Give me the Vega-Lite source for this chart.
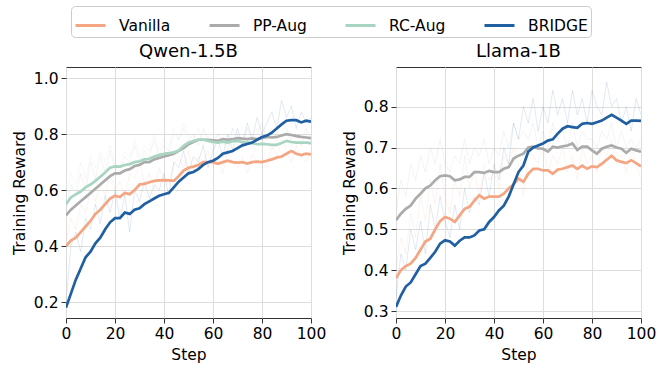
{
  "$schema": "https://vega.github.io/schema/vega-lite/v6.json",
  "padding": {"left": 11, "top": 5, "right": 5, "bottom": 5},
  "background": "white",
  "datasets": {
    "runs": [
{"panel":"Qwen-1.5B","method":"Vanilla","step":0,"smooth":0.40,"raw":0.42},
{"panel":"Qwen-1.5B","method":"Vanilla","step":2,"smooth":0.42,"raw":0.50},
{"panel":"Qwen-1.5B","method":"Vanilla","step":4,"smooth":0.43,"raw":0.46},
{"panel":"Qwen-1.5B","method":"Vanilla","step":6,"smooth":0.45,"raw":0.55},
{"panel":"Qwen-1.5B","method":"Vanilla","step":8,"smooth":0.47,"raw":0.52},
{"panel":"Qwen-1.5B","method":"Vanilla","step":10,"smooth":0.49,"raw":0.60},
{"panel":"Qwen-1.5B","method":"Vanilla","step":12,"smooth":0.515,"raw":0.56},
{"panel":"Qwen-1.5B","method":"Vanilla","step":14,"smooth":0.53,"raw":0.62},
{"panel":"Qwen-1.5B","method":"Vanilla","step":16,"smooth":0.55,"raw":0.58},
{"panel":"Qwen-1.5B","method":"Vanilla","step":18,"smooth":0.57,"raw":0.66},
{"panel":"Qwen-1.5B","method":"Vanilla","step":20,"smooth":0.58,"raw":0.60},
{"panel":"Qwen-1.5B","method":"Vanilla","step":22,"smooth":0.575,"raw":0.63},
{"panel":"Qwen-1.5B","method":"Vanilla","step":24,"smooth":0.59,"raw":0.58},
{"panel":"Qwen-1.5B","method":"Vanilla","step":26,"smooth":0.585,"raw":0.66},
{"panel":"Qwen-1.5B","method":"Vanilla","step":28,"smooth":0.60,"raw":0.64},
{"panel":"Qwen-1.5B","method":"Vanilla","step":30,"smooth":0.62,"raw":0.70},
{"panel":"Qwen-1.5B","method":"Vanilla","step":32,"smooth":0.622,"raw":0.62},
{"panel":"Qwen-1.5B","method":"Vanilla","step":34,"smooth":0.628,"raw":0.66},
{"panel":"Qwen-1.5B","method":"Vanilla","step":36,"smooth":0.633,"raw":0.60},
{"panel":"Qwen-1.5B","method":"Vanilla","step":38,"smooth":0.635,"raw":0.68},
{"panel":"Qwen-1.5B","method":"Vanilla","step":40,"smooth":0.636,"raw":0.64},
{"panel":"Qwen-1.5B","method":"Vanilla","step":42,"smooth":0.635,"raw":0.62},
{"panel":"Qwen-1.5B","method":"Vanilla","step":44,"smooth":0.633,"raw":0.70},
{"panel":"Qwen-1.5B","method":"Vanilla","step":46,"smooth":0.65,"raw":0.72},
{"panel":"Qwen-1.5B","method":"Vanilla","step":48,"smooth":0.67,"raw":0.68},
{"panel":"Qwen-1.5B","method":"Vanilla","step":50,"smooth":0.68,"raw":0.74},
{"panel":"Qwen-1.5B","method":"Vanilla","step":52,"smooth":0.684,"raw":0.66},
{"panel":"Qwen-1.5B","method":"Vanilla","step":54,"smooth":0.69,"raw":0.72},
{"panel":"Qwen-1.5B","method":"Vanilla","step":56,"smooth":0.70,"raw":0.70},
{"panel":"Qwen-1.5B","method":"Vanilla","step":58,"smooth":0.70,"raw":0.74},
{"panel":"Qwen-1.5B","method":"Vanilla","step":60,"smooth":0.70,"raw":0.68},
{"panel":"Qwen-1.5B","method":"Vanilla","step":62,"smooth":0.694,"raw":0.71},
{"panel":"Qwen-1.5B","method":"Vanilla","step":64,"smooth":0.70,"raw":0.66},
{"panel":"Qwen-1.5B","method":"Vanilla","step":66,"smooth":0.705,"raw":0.74},
{"panel":"Qwen-1.5B","method":"Vanilla","step":68,"smooth":0.70,"raw":0.70},
{"panel":"Qwen-1.5B","method":"Vanilla","step":70,"smooth":0.698,"raw":0.68},
{"panel":"Qwen-1.5B","method":"Vanilla","step":72,"smooth":0.70,"raw":0.72},
{"panel":"Qwen-1.5B","method":"Vanilla","step":74,"smooth":0.695,"raw":0.66},
{"panel":"Qwen-1.5B","method":"Vanilla","step":76,"smooth":0.70,"raw":0.73},
{"panel":"Qwen-1.5B","method":"Vanilla","step":78,"smooth":0.702,"raw":0.70},
{"panel":"Qwen-1.5B","method":"Vanilla","step":80,"smooth":0.70,"raw":0.72},
{"panel":"Qwen-1.5B","method":"Vanilla","step":82,"smooth":0.705,"raw":0.68},
{"panel":"Qwen-1.5B","method":"Vanilla","step":84,"smooth":0.71,"raw":0.76},
{"panel":"Qwen-1.5B","method":"Vanilla","step":86,"smooth":0.716,"raw":0.72},
{"panel":"Qwen-1.5B","method":"Vanilla","step":88,"smooth":0.72,"raw":0.78},
{"panel":"Qwen-1.5B","method":"Vanilla","step":90,"smooth":0.73,"raw":0.74},
{"panel":"Qwen-1.5B","method":"Vanilla","step":92,"smooth":0.74,"raw":0.70},
{"panel":"Qwen-1.5B","method":"Vanilla","step":94,"smooth":0.73,"raw":0.76},
{"panel":"Qwen-1.5B","method":"Vanilla","step":96,"smooth":0.725,"raw":0.72},
{"panel":"Qwen-1.5B","method":"Vanilla","step":98,"smooth":0.73,"raw":0.70},
{"panel":"Qwen-1.5B","method":"Vanilla","step":100,"smooth":0.728,"raw":0.74},
{"panel":"Qwen-1.5B","method":"PP-Aug","step":0,"smooth":0.51,"raw":0.52},
{"panel":"Qwen-1.5B","method":"PP-Aug","step":2,"smooth":0.53,"raw":0.62},
{"panel":"Qwen-1.5B","method":"PP-Aug","step":4,"smooth":0.545,"raw":0.58},
{"panel":"Qwen-1.5B","method":"PP-Aug","step":6,"smooth":0.56,"raw":0.66},
{"panel":"Qwen-1.5B","method":"PP-Aug","step":8,"smooth":0.575,"raw":0.60},
{"panel":"Qwen-1.5B","method":"PP-Aug","step":10,"smooth":0.59,"raw":0.70},
{"panel":"Qwen-1.5B","method":"PP-Aug","step":12,"smooth":0.605,"raw":0.64},
{"panel":"Qwen-1.5B","method":"PP-Aug","step":14,"smooth":0.62,"raw":0.72},
{"panel":"Qwen-1.5B","method":"PP-Aug","step":16,"smooth":0.635,"raw":0.66},
{"panel":"Qwen-1.5B","method":"PP-Aug","step":18,"smooth":0.65,"raw":0.74},
{"panel":"Qwen-1.5B","method":"PP-Aug","step":20,"smooth":0.66,"raw":0.68},
{"panel":"Qwen-1.5B","method":"PP-Aug","step":22,"smooth":0.66,"raw":0.66},
{"panel":"Qwen-1.5B","method":"PP-Aug","step":24,"smooth":0.67,"raw":0.72},
{"panel":"Qwen-1.5B","method":"PP-Aug","step":26,"smooth":0.675,"raw":0.70},
{"panel":"Qwen-1.5B","method":"PP-Aug","step":28,"smooth":0.686,"raw":0.76},
{"panel":"Qwen-1.5B","method":"PP-Aug","step":30,"smooth":0.69,"raw":0.70},
{"panel":"Qwen-1.5B","method":"PP-Aug","step":32,"smooth":0.70,"raw":0.74},
{"panel":"Qwen-1.5B","method":"PP-Aug","step":34,"smooth":0.70,"raw":0.72},
{"panel":"Qwen-1.5B","method":"PP-Aug","step":36,"smooth":0.71,"raw":0.78},
{"panel":"Qwen-1.5B","method":"PP-Aug","step":38,"smooth":0.715,"raw":0.72},
{"panel":"Qwen-1.5B","method":"PP-Aug","step":40,"smooth":0.72,"raw":0.76},
{"panel":"Qwen-1.5B","method":"PP-Aug","step":42,"smooth":0.725,"raw":0.74},
{"panel":"Qwen-1.5B","method":"PP-Aug","step":44,"smooth":0.73,"raw":0.80},
{"panel":"Qwen-1.5B","method":"PP-Aug","step":46,"smooth":0.74,"raw":0.78},
{"panel":"Qwen-1.5B","method":"PP-Aug","step":48,"smooth":0.75,"raw":0.82},
{"panel":"Qwen-1.5B","method":"PP-Aug","step":50,"smooth":0.764,"raw":0.78},
{"panel":"Qwen-1.5B","method":"PP-Aug","step":52,"smooth":0.772,"raw":0.80},
{"panel":"Qwen-1.5B","method":"PP-Aug","step":54,"smooth":0.78,"raw":0.76},
{"panel":"Qwen-1.5B","method":"PP-Aug","step":56,"smooth":0.78,"raw":0.82},
{"panel":"Qwen-1.5B","method":"PP-Aug","step":58,"smooth":0.78,"raw":0.78},
{"panel":"Qwen-1.5B","method":"PP-Aug","step":60,"smooth":0.778,"raw":0.76},
{"panel":"Qwen-1.5B","method":"PP-Aug","step":62,"smooth":0.776,"raw":0.80},
{"panel":"Qwen-1.5B","method":"PP-Aug","step":64,"smooth":0.782,"raw":0.78},
{"panel":"Qwen-1.5B","method":"PP-Aug","step":66,"smooth":0.78,"raw":0.74},
{"panel":"Qwen-1.5B","method":"PP-Aug","step":68,"smooth":0.782,"raw":0.82},
{"panel":"Qwen-1.5B","method":"PP-Aug","step":70,"smooth":0.786,"raw":0.80},
{"panel":"Qwen-1.5B","method":"PP-Aug","step":72,"smooth":0.784,"raw":0.76},
{"panel":"Qwen-1.5B","method":"PP-Aug","step":74,"smooth":0.782,"raw":0.82},
{"panel":"Qwen-1.5B","method":"PP-Aug","step":76,"smooth":0.785,"raw":0.78},
{"panel":"Qwen-1.5B","method":"PP-Aug","step":78,"smooth":0.782,"raw":0.80},
{"panel":"Qwen-1.5B","method":"PP-Aug","step":80,"smooth":0.786,"raw":0.84},
{"panel":"Qwen-1.5B","method":"PP-Aug","step":82,"smooth":0.79,"raw":0.78},
{"panel":"Qwen-1.5B","method":"PP-Aug","step":84,"smooth":0.788,"raw":0.82},
{"panel":"Qwen-1.5B","method":"PP-Aug","step":86,"smooth":0.79,"raw":0.80},
{"panel":"Qwen-1.5B","method":"PP-Aug","step":88,"smooth":0.795,"raw":0.84},
{"panel":"Qwen-1.5B","method":"PP-Aug","step":90,"smooth":0.80,"raw":0.82},
{"panel":"Qwen-1.5B","method":"PP-Aug","step":92,"smooth":0.797,"raw":0.78},
{"panel":"Qwen-1.5B","method":"PP-Aug","step":94,"smooth":0.793,"raw":0.80},
{"panel":"Qwen-1.5B","method":"PP-Aug","step":96,"smooth":0.79,"raw":0.76},
{"panel":"Qwen-1.5B","method":"PP-Aug","step":98,"smooth":0.788,"raw":0.82},
{"panel":"Qwen-1.5B","method":"PP-Aug","step":100,"smooth":0.786,"raw":0.78},
{"panel":"Qwen-1.5B","method":"RC-Aug","step":0,"smooth":0.55,"raw":0.58},
{"panel":"Qwen-1.5B","method":"RC-Aug","step":2,"smooth":0.574,"raw":0.66},
{"panel":"Qwen-1.5B","method":"RC-Aug","step":4,"smooth":0.585,"raw":0.62},
{"panel":"Qwen-1.5B","method":"RC-Aug","step":6,"smooth":0.595,"raw":0.70},
{"panel":"Qwen-1.5B","method":"RC-Aug","step":8,"smooth":0.61,"raw":0.64},
{"panel":"Qwen-1.5B","method":"RC-Aug","step":10,"smooth":0.62,"raw":0.72},
{"panel":"Qwen-1.5B","method":"RC-Aug","step":12,"smooth":0.633,"raw":0.68},
{"panel":"Qwen-1.5B","method":"RC-Aug","step":14,"smooth":0.648,"raw":0.74},
{"panel":"Qwen-1.5B","method":"RC-Aug","step":16,"smooth":0.663,"raw":0.70},
{"panel":"Qwen-1.5B","method":"RC-Aug","step":18,"smooth":0.68,"raw":0.76},
{"panel":"Qwen-1.5B","method":"RC-Aug","step":20,"smooth":0.685,"raw":0.70},
{"panel":"Qwen-1.5B","method":"RC-Aug","step":22,"smooth":0.684,"raw":0.68},
{"panel":"Qwen-1.5B","method":"RC-Aug","step":24,"smooth":0.69,"raw":0.74},
{"panel":"Qwen-1.5B","method":"RC-Aug","step":26,"smooth":0.693,"raw":0.72},
{"panel":"Qwen-1.5B","method":"RC-Aug","step":28,"smooth":0.70,"raw":0.78},
{"panel":"Qwen-1.5B","method":"RC-Aug","step":30,"smooth":0.703,"raw":0.72},
{"panel":"Qwen-1.5B","method":"RC-Aug","step":32,"smooth":0.71,"raw":0.76},
{"panel":"Qwen-1.5B","method":"RC-Aug","step":34,"smooth":0.712,"raw":0.74},
{"panel":"Qwen-1.5B","method":"RC-Aug","step":36,"smooth":0.72,"raw":0.80},
{"panel":"Qwen-1.5B","method":"RC-Aug","step":38,"smooth":0.725,"raw":0.74},
{"panel":"Qwen-1.5B","method":"RC-Aug","step":40,"smooth":0.73,"raw":0.78},
{"panel":"Qwen-1.5B","method":"RC-Aug","step":42,"smooth":0.732,"raw":0.76},
{"panel":"Qwen-1.5B","method":"RC-Aug","step":44,"smooth":0.735,"raw":0.82},
{"panel":"Qwen-1.5B","method":"RC-Aug","step":46,"smooth":0.742,"raw":0.78},
{"panel":"Qwen-1.5B","method":"RC-Aug","step":48,"smooth":0.758,"raw":0.84},
{"panel":"Qwen-1.5B","method":"RC-Aug","step":50,"smooth":0.77,"raw":0.80},
{"panel":"Qwen-1.5B","method":"RC-Aug","step":52,"smooth":0.775,"raw":0.78},
{"panel":"Qwen-1.5B","method":"RC-Aug","step":54,"smooth":0.78,"raw":0.82},
{"panel":"Qwen-1.5B","method":"RC-Aug","step":56,"smooth":0.78,"raw":0.76},
{"panel":"Qwen-1.5B","method":"RC-Aug","step":58,"smooth":0.776,"raw":0.78},
{"panel":"Qwen-1.5B","method":"RC-Aug","step":60,"smooth":0.772,"raw":0.74},
{"panel":"Qwen-1.5B","method":"RC-Aug","step":62,"smooth":0.77,"raw":0.80},
{"panel":"Qwen-1.5B","method":"RC-Aug","step":64,"smooth":0.773,"raw":0.76},
{"panel":"Qwen-1.5B","method":"RC-Aug","step":66,"smooth":0.77,"raw":0.78},
{"panel":"Qwen-1.5B","method":"RC-Aug","step":68,"smooth":0.775,"raw":0.82},
{"panel":"Qwen-1.5B","method":"RC-Aug","step":70,"smooth":0.776,"raw":0.76},
{"panel":"Qwen-1.5B","method":"RC-Aug","step":72,"smooth":0.772,"raw":0.74},
{"panel":"Qwen-1.5B","method":"RC-Aug","step":74,"smooth":0.77,"raw":0.78},
{"panel":"Qwen-1.5B","method":"RC-Aug","step":76,"smooth":0.768,"raw":0.76},
{"panel":"Qwen-1.5B","method":"RC-Aug","step":78,"smooth":0.764,"raw":0.74},
{"panel":"Qwen-1.5B","method":"RC-Aug","step":80,"smooth":0.765,"raw":0.78},
{"panel":"Qwen-1.5B","method":"RC-Aug","step":82,"smooth":0.764,"raw":0.76},
{"panel":"Qwen-1.5B","method":"RC-Aug","step":84,"smooth":0.762,"raw":0.74},
{"panel":"Qwen-1.5B","method":"RC-Aug","step":86,"smooth":0.762,"raw":0.78},
{"panel":"Qwen-1.5B","method":"RC-Aug","step":88,"smooth":0.768,"raw":0.80},
{"panel":"Qwen-1.5B","method":"RC-Aug","step":90,"smooth":0.776,"raw":0.82},
{"panel":"Qwen-1.5B","method":"RC-Aug","step":92,"smooth":0.772,"raw":0.76},
{"panel":"Qwen-1.5B","method":"RC-Aug","step":94,"smooth":0.77,"raw":0.78},
{"panel":"Qwen-1.5B","method":"RC-Aug","step":96,"smooth":0.77,"raw":0.76},
{"panel":"Qwen-1.5B","method":"RC-Aug","step":98,"smooth":0.77,"raw":0.80},
{"panel":"Qwen-1.5B","method":"RC-Aug","step":100,"smooth":0.768,"raw":0.76},
{"panel":"Qwen-1.5B","method":"BRIDGE","step":0,"smooth":0.18,"raw":0.20},
{"panel":"Qwen-1.5B","method":"BRIDGE","step":2,"smooth":0.23,"raw":0.40},
{"panel":"Qwen-1.5B","method":"BRIDGE","step":4,"smooth":0.28,"raw":0.45},
{"panel":"Qwen-1.5B","method":"BRIDGE","step":6,"smooth":0.32,"raw":0.38},
{"panel":"Qwen-1.5B","method":"BRIDGE","step":8,"smooth":0.36,"raw":0.50},
{"panel":"Qwen-1.5B","method":"BRIDGE","step":10,"smooth":0.38,"raw":0.46},
{"panel":"Qwen-1.5B","method":"BRIDGE","step":12,"smooth":0.41,"raw":0.55},
{"panel":"Qwen-1.5B","method":"BRIDGE","step":14,"smooth":0.43,"raw":0.48},
{"panel":"Qwen-1.5B","method":"BRIDGE","step":16,"smooth":0.46,"raw":0.58},
{"panel":"Qwen-1.5B","method":"BRIDGE","step":18,"smooth":0.485,"raw":0.52},
{"panel":"Qwen-1.5B","method":"BRIDGE","step":20,"smooth":0.50,"raw":0.60},
{"panel":"Qwen-1.5B","method":"BRIDGE","step":22,"smooth":0.50,"raw":0.50},
{"panel":"Qwen-1.5B","method":"BRIDGE","step":24,"smooth":0.52,"raw":0.58},
{"panel":"Qwen-1.5B","method":"BRIDGE","step":26,"smooth":0.515,"raw":0.45},
{"panel":"Qwen-1.5B","method":"BRIDGE","step":28,"smooth":0.53,"raw":0.60},
{"panel":"Qwen-1.5B","method":"BRIDGE","step":30,"smooth":0.535,"raw":0.56},
{"panel":"Qwen-1.5B","method":"BRIDGE","step":32,"smooth":0.55,"raw":0.63},
{"panel":"Qwen-1.5B","method":"BRIDGE","step":34,"smooth":0.56,"raw":0.57},
{"panel":"Qwen-1.5B","method":"BRIDGE","step":36,"smooth":0.57,"raw":0.62},
{"panel":"Qwen-1.5B","method":"BRIDGE","step":38,"smooth":0.58,"raw":0.60},
{"panel":"Qwen-1.5B","method":"BRIDGE","step":40,"smooth":0.585,"raw":0.66},
{"panel":"Qwen-1.5B","method":"BRIDGE","step":42,"smooth":0.59,"raw":0.58},
{"panel":"Qwen-1.5B","method":"BRIDGE","step":44,"smooth":0.61,"raw":0.70},
{"panel":"Qwen-1.5B","method":"BRIDGE","step":46,"smooth":0.63,"raw":0.68},
{"panel":"Qwen-1.5B","method":"BRIDGE","step":48,"smooth":0.645,"raw":0.74},
{"panel":"Qwen-1.5B","method":"BRIDGE","step":50,"smooth":0.66,"raw":0.66},
{"panel":"Qwen-1.5B","method":"BRIDGE","step":52,"smooth":0.665,"raw":0.72},
{"panel":"Qwen-1.5B","method":"BRIDGE","step":54,"smooth":0.675,"raw":0.70},
{"panel":"Qwen-1.5B","method":"BRIDGE","step":56,"smooth":0.69,"raw":0.76},
{"panel":"Qwen-1.5B","method":"BRIDGE","step":58,"smooth":0.70,"raw":0.68},
{"panel":"Qwen-1.5B","method":"BRIDGE","step":60,"smooth":0.705,"raw":0.74},
{"panel":"Qwen-1.5B","method":"BRIDGE","step":62,"smooth":0.715,"raw":0.78},
{"panel":"Qwen-1.5B","method":"BRIDGE","step":64,"smooth":0.73,"raw":0.72},
{"panel":"Qwen-1.5B","method":"BRIDGE","step":66,"smooth":0.735,"raw":0.80},
{"panel":"Qwen-1.5B","method":"BRIDGE","step":68,"smooth":0.74,"raw":0.74},
{"panel":"Qwen-1.5B","method":"BRIDGE","step":70,"smooth":0.75,"raw":0.82},
{"panel":"Qwen-1.5B","method":"BRIDGE","step":72,"smooth":0.76,"raw":0.76},
{"panel":"Qwen-1.5B","method":"BRIDGE","step":74,"smooth":0.765,"raw":0.84},
{"panel":"Qwen-1.5B","method":"BRIDGE","step":76,"smooth":0.77,"raw":0.78},
{"panel":"Qwen-1.5B","method":"BRIDGE","step":78,"smooth":0.78,"raw":0.86},
{"panel":"Qwen-1.5B","method":"BRIDGE","step":80,"smooth":0.79,"raw":0.80},
{"panel":"Qwen-1.5B","method":"BRIDGE","step":82,"smooth":0.795,"raw":0.84},
{"panel":"Qwen-1.5B","method":"BRIDGE","step":84,"smooth":0.805,"raw":0.88},
{"panel":"Qwen-1.5B","method":"BRIDGE","step":86,"smooth":0.82,"raw":0.82},
{"panel":"Qwen-1.5B","method":"BRIDGE","step":88,"smooth":0.835,"raw":0.92},
{"panel":"Qwen-1.5B","method":"BRIDGE","step":90,"smooth":0.848,"raw":0.86},
{"panel":"Qwen-1.5B","method":"BRIDGE","step":92,"smooth":0.85,"raw":0.90},
{"panel":"Qwen-1.5B","method":"BRIDGE","step":94,"smooth":0.85,"raw":0.82},
{"panel":"Qwen-1.5B","method":"BRIDGE","step":96,"smooth":0.842,"raw":0.88},
{"panel":"Qwen-1.5B","method":"BRIDGE","step":98,"smooth":0.848,"raw":0.84},
{"panel":"Qwen-1.5B","method":"BRIDGE","step":100,"smooth":0.845,"raw":0.86},
{"panel":"Llama-1B","method":"Vanilla","step":0,"smooth":0.38,"raw":0.40},
{"panel":"Llama-1B","method":"Vanilla","step":2,"smooth":0.40,"raw":0.48},
{"panel":"Llama-1B","method":"Vanilla","step":4,"smooth":0.41,"raw":0.44},
{"panel":"Llama-1B","method":"Vanilla","step":6,"smooth":0.416,"raw":0.54},
{"panel":"Llama-1B","method":"Vanilla","step":8,"smooth":0.43,"raw":0.48},
{"panel":"Llama-1B","method":"Vanilla","step":10,"smooth":0.45,"raw":0.58},
{"panel":"Llama-1B","method":"Vanilla","step":12,"smooth":0.47,"raw":0.52},
{"panel":"Llama-1B","method":"Vanilla","step":14,"smooth":0.477,"raw":0.62},
{"panel":"Llama-1B","method":"Vanilla","step":16,"smooth":0.50,"raw":0.56},
{"panel":"Llama-1B","method":"Vanilla","step":18,"smooth":0.52,"raw":0.66},
{"panel":"Llama-1B","method":"Vanilla","step":20,"smooth":0.53,"raw":0.58},
{"panel":"Llama-1B","method":"Vanilla","step":22,"smooth":0.526,"raw":0.54},
{"panel":"Llama-1B","method":"Vanilla","step":24,"smooth":0.518,"raw":0.62},
{"panel":"Llama-1B","method":"Vanilla","step":26,"smooth":0.534,"raw":0.58},
{"panel":"Llama-1B","method":"Vanilla","step":28,"smooth":0.55,"raw":0.68},
{"panel":"Llama-1B","method":"Vanilla","step":30,"smooth":0.555,"raw":0.60},
{"panel":"Llama-1B","method":"Vanilla","step":32,"smooth":0.57,"raw":0.64},
{"panel":"Llama-1B","method":"Vanilla","step":34,"smooth":0.583,"raw":0.58},
{"panel":"Llama-1B","method":"Vanilla","step":36,"smooth":0.575,"raw":0.66},
{"panel":"Llama-1B","method":"Vanilla","step":38,"smooth":0.58,"raw":0.62},
{"panel":"Llama-1B","method":"Vanilla","step":40,"smooth":0.58,"raw":0.64},
{"panel":"Llama-1B","method":"Vanilla","step":42,"smooth":0.58,"raw":0.60},
{"panel":"Llama-1B","method":"Vanilla","step":44,"smooth":0.587,"raw":0.68},
{"panel":"Llama-1B","method":"Vanilla","step":46,"smooth":0.60,"raw":0.66},
{"panel":"Llama-1B","method":"Vanilla","step":48,"smooth":0.61,"raw":0.70},
{"panel":"Llama-1B","method":"Vanilla","step":50,"smooth":0.624,"raw":0.66},
{"panel":"Llama-1B","method":"Vanilla","step":52,"smooth":0.616,"raw":0.58},
{"panel":"Llama-1B","method":"Vanilla","step":54,"smooth":0.636,"raw":0.70},
{"panel":"Llama-1B","method":"Vanilla","step":56,"smooth":0.648,"raw":0.68},
{"panel":"Llama-1B","method":"Vanilla","step":58,"smooth":0.648,"raw":0.66},
{"panel":"Llama-1B","method":"Vanilla","step":60,"smooth":0.644,"raw":0.70},
{"panel":"Llama-1B","method":"Vanilla","step":62,"smooth":0.644,"raw":0.64},
{"panel":"Llama-1B","method":"Vanilla","step":64,"smooth":0.636,"raw":0.68},
{"panel":"Llama-1B","method":"Vanilla","step":66,"smooth":0.646,"raw":0.66},
{"panel":"Llama-1B","method":"Vanilla","step":68,"smooth":0.648,"raw":0.70},
{"panel":"Llama-1B","method":"Vanilla","step":70,"smooth":0.652,"raw":0.64},
{"panel":"Llama-1B","method":"Vanilla","step":72,"smooth":0.656,"raw":0.68},
{"panel":"Llama-1B","method":"Vanilla","step":74,"smooth":0.648,"raw":0.62},
{"panel":"Llama-1B","method":"Vanilla","step":76,"smooth":0.656,"raw":0.70},
{"panel":"Llama-1B","method":"Vanilla","step":78,"smooth":0.648,"raw":0.66},
{"panel":"Llama-1B","method":"Vanilla","step":80,"smooth":0.654,"raw":0.68},
{"panel":"Llama-1B","method":"Vanilla","step":82,"smooth":0.652,"raw":0.64},
{"panel":"Llama-1B","method":"Vanilla","step":84,"smooth":0.66,"raw":0.70},
{"panel":"Llama-1B","method":"Vanilla","step":86,"smooth":0.67,"raw":0.68},
{"panel":"Llama-1B","method":"Vanilla","step":88,"smooth":0.68,"raw":0.72},
{"panel":"Llama-1B","method":"Vanilla","step":90,"smooth":0.669,"raw":0.66},
{"panel":"Llama-1B","method":"Vanilla","step":92,"smooth":0.665,"raw":0.68},
{"panel":"Llama-1B","method":"Vanilla","step":94,"smooth":0.662,"raw":0.64},
{"panel":"Llama-1B","method":"Vanilla","step":96,"smooth":0.669,"raw":0.70},
{"panel":"Llama-1B","method":"Vanilla","step":98,"smooth":0.662,"raw":0.66},
{"panel":"Llama-1B","method":"Vanilla","step":100,"smooth":0.654,"raw":0.62},
{"panel":"Llama-1B","method":"PP-Aug","step":0,"smooth":0.522,"raw":0.54},
{"panel":"Llama-1B","method":"PP-Aug","step":2,"smooth":0.538,"raw":0.62},
{"panel":"Llama-1B","method":"PP-Aug","step":4,"smooth":0.55,"raw":0.58},
{"panel":"Llama-1B","method":"PP-Aug","step":6,"smooth":0.558,"raw":0.66},
{"panel":"Llama-1B","method":"PP-Aug","step":8,"smooth":0.575,"raw":0.62},
{"panel":"Llama-1B","method":"PP-Aug","step":10,"smooth":0.587,"raw":0.68},
{"panel":"Llama-1B","method":"PP-Aug","step":12,"smooth":0.60,"raw":0.64},
{"panel":"Llama-1B","method":"PP-Aug","step":14,"smooth":0.607,"raw":0.70},
{"panel":"Llama-1B","method":"PP-Aug","step":16,"smooth":0.62,"raw":0.66},
{"panel":"Llama-1B","method":"PP-Aug","step":18,"smooth":0.63,"raw":0.72},
{"panel":"Llama-1B","method":"PP-Aug","step":20,"smooth":0.632,"raw":0.66},
{"panel":"Llama-1B","method":"PP-Aug","step":22,"smooth":0.63,"raw":0.64},
{"panel":"Llama-1B","method":"PP-Aug","step":24,"smooth":0.62,"raw":0.68},
{"panel":"Llama-1B","method":"PP-Aug","step":26,"smooth":0.622,"raw":0.66},
{"panel":"Llama-1B","method":"PP-Aug","step":28,"smooth":0.628,"raw":0.72},
{"panel":"Llama-1B","method":"PP-Aug","step":30,"smooth":0.628,"raw":0.66},
{"panel":"Llama-1B","method":"PP-Aug","step":32,"smooth":0.64,"raw":0.70},
{"panel":"Llama-1B","method":"PP-Aug","step":34,"smooth":0.64,"raw":0.68},
{"panel":"Llama-1B","method":"PP-Aug","step":36,"smooth":0.638,"raw":0.72},
{"panel":"Llama-1B","method":"PP-Aug","step":38,"smooth":0.643,"raw":0.66},
{"panel":"Llama-1B","method":"PP-Aug","step":40,"smooth":0.64,"raw":0.70},
{"panel":"Llama-1B","method":"PP-Aug","step":42,"smooth":0.64,"raw":0.68},
{"panel":"Llama-1B","method":"PP-Aug","step":44,"smooth":0.648,"raw":0.74},
{"panel":"Llama-1B","method":"PP-Aug","step":46,"smooth":0.652,"raw":0.70},
{"panel":"Llama-1B","method":"PP-Aug","step":48,"smooth":0.673,"raw":0.76},
{"panel":"Llama-1B","method":"PP-Aug","step":50,"smooth":0.68,"raw":0.72},
{"panel":"Llama-1B","method":"PP-Aug","step":52,"smooth":0.685,"raw":0.74},
{"panel":"Llama-1B","method":"PP-Aug","step":54,"smooth":0.70,"raw":0.72},
{"panel":"Llama-1B","method":"PP-Aug","step":56,"smooth":0.702,"raw":0.76},
{"panel":"Llama-1B","method":"PP-Aug","step":58,"smooth":0.698,"raw":0.70},
{"panel":"Llama-1B","method":"PP-Aug","step":60,"smooth":0.697,"raw":0.74},
{"panel":"Llama-1B","method":"PP-Aug","step":62,"smooth":0.69,"raw":0.70},
{"panel":"Llama-1B","method":"PP-Aug","step":64,"smooth":0.702,"raw":0.76},
{"panel":"Llama-1B","method":"PP-Aug","step":66,"smooth":0.70,"raw":0.72},
{"panel":"Llama-1B","method":"PP-Aug","step":68,"smooth":0.703,"raw":0.74},
{"panel":"Llama-1B","method":"PP-Aug","step":70,"smooth":0.705,"raw":0.70},
{"panel":"Llama-1B","method":"PP-Aug","step":72,"smooth":0.71,"raw":0.76},
{"panel":"Llama-1B","method":"PP-Aug","step":74,"smooth":0.694,"raw":0.70},
{"panel":"Llama-1B","method":"PP-Aug","step":76,"smooth":0.702,"raw":0.74},
{"panel":"Llama-1B","method":"PP-Aug","step":78,"smooth":0.702,"raw":0.72},
{"panel":"Llama-1B","method":"PP-Aug","step":80,"smooth":0.693,"raw":0.72},
{"panel":"Llama-1B","method":"PP-Aug","step":82,"smooth":0.685,"raw":0.70},
{"panel":"Llama-1B","method":"PP-Aug","step":84,"smooth":0.697,"raw":0.74},
{"panel":"Llama-1B","method":"PP-Aug","step":86,"smooth":0.702,"raw":0.72},
{"panel":"Llama-1B","method":"PP-Aug","step":88,"smooth":0.705,"raw":0.76},
{"panel":"Llama-1B","method":"PP-Aug","step":90,"smooth":0.70,"raw":0.70},
{"panel":"Llama-1B","method":"PP-Aug","step":92,"smooth":0.697,"raw":0.74},
{"panel":"Llama-1B","method":"PP-Aug","step":94,"smooth":0.687,"raw":0.70},
{"panel":"Llama-1B","method":"PP-Aug","step":96,"smooth":0.697,"raw":0.72},
{"panel":"Llama-1B","method":"PP-Aug","step":98,"smooth":0.693,"raw":0.70},
{"panel":"Llama-1B","method":"PP-Aug","step":100,"smooth":0.69,"raw":0.72},
{"panel":"Llama-1B","method":"BRIDGE","step":0,"smooth":0.31,"raw":0.33},
{"panel":"Llama-1B","method":"BRIDGE","step":2,"smooth":0.338,"raw":0.44},
{"panel":"Llama-1B","method":"BRIDGE","step":4,"smooth":0.36,"raw":0.40},
{"panel":"Llama-1B","method":"BRIDGE","step":6,"smooth":0.37,"raw":0.50},
{"panel":"Llama-1B","method":"BRIDGE","step":8,"smooth":0.39,"raw":0.45},
{"panel":"Llama-1B","method":"BRIDGE","step":10,"smooth":0.41,"raw":0.52},
{"panel":"Llama-1B","method":"BRIDGE","step":12,"smooth":0.416,"raw":0.44},
{"panel":"Llama-1B","method":"BRIDGE","step":14,"smooth":0.43,"raw":0.56},
{"panel":"Llama-1B","method":"BRIDGE","step":16,"smooth":0.445,"raw":0.50},
{"panel":"Llama-1B","method":"BRIDGE","step":18,"smooth":0.465,"raw":0.58},
{"panel":"Llama-1B","method":"BRIDGE","step":20,"smooth":0.473,"raw":0.52},
{"panel":"Llama-1B","method":"BRIDGE","step":22,"smooth":0.47,"raw":0.48},
{"panel":"Llama-1B","method":"BRIDGE","step":24,"smooth":0.46,"raw":0.56},
{"panel":"Llama-1B","method":"BRIDGE","step":26,"smooth":0.472,"raw":0.50},
{"panel":"Llama-1B","method":"BRIDGE","step":28,"smooth":0.48,"raw":0.60},
{"panel":"Llama-1B","method":"BRIDGE","step":30,"smooth":0.48,"raw":0.54},
{"panel":"Llama-1B","method":"BRIDGE","step":32,"smooth":0.485,"raw":0.58},
{"panel":"Llama-1B","method":"BRIDGE","step":34,"smooth":0.497,"raw":0.56},
{"panel":"Llama-1B","method":"BRIDGE","step":36,"smooth":0.50,"raw":0.64},
{"panel":"Llama-1B","method":"BRIDGE","step":38,"smooth":0.518,"raw":0.58},
{"panel":"Llama-1B","method":"BRIDGE","step":40,"smooth":0.53,"raw":0.66},
{"panel":"Llama-1B","method":"BRIDGE","step":42,"smooth":0.546,"raw":0.62},
{"panel":"Llama-1B","method":"BRIDGE","step":44,"smooth":0.558,"raw":0.70},
{"panel":"Llama-1B","method":"BRIDGE","step":46,"smooth":0.58,"raw":0.66},
{"panel":"Llama-1B","method":"BRIDGE","step":48,"smooth":0.61,"raw":0.76},
{"panel":"Llama-1B","method":"BRIDGE","step":50,"smooth":0.64,"raw":0.72},
{"panel":"Llama-1B","method":"BRIDGE","step":52,"smooth":0.656,"raw":0.80},
{"panel":"Llama-1B","method":"BRIDGE","step":54,"smooth":0.69,"raw":0.76},
{"panel":"Llama-1B","method":"BRIDGE","step":56,"smooth":0.70,"raw":0.82},
{"panel":"Llama-1B","method":"BRIDGE","step":58,"smooth":0.705,"raw":0.74},
{"panel":"Llama-1B","method":"BRIDGE","step":60,"smooth":0.71,"raw":0.80},
{"panel":"Llama-1B","method":"BRIDGE","step":62,"smooth":0.717,"raw":0.76},
{"panel":"Llama-1B","method":"BRIDGE","step":64,"smooth":0.72,"raw":0.84},
{"panel":"Llama-1B","method":"BRIDGE","step":66,"smooth":0.734,"raw":0.78},
{"panel":"Llama-1B","method":"BRIDGE","step":68,"smooth":0.746,"raw":0.82},
{"panel":"Llama-1B","method":"BRIDGE","step":70,"smooth":0.752,"raw":0.76},
{"panel":"Llama-1B","method":"BRIDGE","step":72,"smooth":0.75,"raw":0.84},
{"panel":"Llama-1B","method":"BRIDGE","step":74,"smooth":0.748,"raw":0.78},
{"panel":"Llama-1B","method":"BRIDGE","step":76,"smooth":0.758,"raw":0.82},
{"panel":"Llama-1B","method":"BRIDGE","step":78,"smooth":0.76,"raw":0.76},
{"panel":"Llama-1B","method":"BRIDGE","step":80,"smooth":0.758,"raw":0.84},
{"panel":"Llama-1B","method":"BRIDGE","step":82,"smooth":0.762,"raw":0.80},
{"panel":"Llama-1B","method":"BRIDGE","step":84,"smooth":0.766,"raw":0.78},
{"panel":"Llama-1B","method":"BRIDGE","step":86,"smooth":0.773,"raw":0.86},
{"panel":"Llama-1B","method":"BRIDGE","step":88,"smooth":0.78,"raw":0.80},
{"panel":"Llama-1B","method":"BRIDGE","step":90,"smooth":0.773,"raw":0.82},
{"panel":"Llama-1B","method":"BRIDGE","step":92,"smooth":0.766,"raw":0.76},
{"panel":"Llama-1B","method":"BRIDGE","step":94,"smooth":0.758,"raw":0.80},
{"panel":"Llama-1B","method":"BRIDGE","step":96,"smooth":0.766,"raw":0.74},
{"panel":"Llama-1B","method":"BRIDGE","step":98,"smooth":0.766,"raw":0.82},
{"panel":"Llama-1B","method":"BRIDGE","step":100,"smooth":0.765,"raw":0.78}
    ]
  },
  "data": {"name": "runs"},
  "config": {
    "font": "DejaVu Sans",
    "view": {"stroke": "#333333", "strokeWidth": 1},
    "axis": {
      "domain": false,
      "tickColor": "#333333",
      "tickSize": 5,
      "labelPadding": 3,
      "labelFontSize": 15.5,
      "titleFontSize": 15.5,
      "titleFontWeight": "normal",
      "labelColor": "#000000",
      "titleColor": "#000000",
      "gridColor": "#dddddd",
      "gridWidth": 1,
      "labelFlush": false,
      "labelOverlap": false,
      "titlePadding": 6
    },
    "title": {"fontSize": 18, "fontWeight": "normal", "color": "#000000", "offset": 6},
    "legend": {
      "orient": "none",
      "legendX": 5,
      "legendY": -61,
      "direction": "horizontal",
      "title": null,
      "symbolType": "stroke",
      "symbolStrokeWidth": 3,
      "symbolOpacity": 1,
      "symbolSize": 900,
      "labelFontSize": 15.5,
      "labelColor": "#000000",
      "labelOffset": 12,
      "columnPadding": 32,
      "padding": 3,
      "strokeColor": "#cccccc",
      "fillColor": "#ffffff",
      "cornerRadius": 4
    }
  },
  "spacing": 14,
  "resolve": {"scale": {"color": "shared", "y": "independent"}, "legend": {"color": "shared"}},
  "hconcat": [
    {
      "title": "Qwen-1.5B",
      "width": 245,
      "height": 251,
      "transform": [{"filter": "datum.panel === 'Qwen-1.5B'"}],
      "encoding": {
        "x": {"field": "step", "type": "quantitative", "title": "Step",
              "scale": {"domain": [0, 100], "nice": false},
              "axis": {"values": [0, 20, 40, 60, 80, 100]}},
        "color": {"field": "method", "type": "nominal", "title": null,
                  "scale": {"domain": ["Vanilla", "PP-Aug", "RC-Aug", "BRIDGE"],
                            "range": ["#f4a582", "#ababab", "#a8d5c1", "#1f5fa2"]}}
      },
      "layer": [
        {"mark": {"type": "line", "strokeWidth": 1, "opacity": 0.13, "clip": true},
         "encoding": {"y": {"field": "raw", "type": "quantitative", "title": "Training Reward",
                            "scale": {"domain": [0.143, 1.04], "nice": false, "zero": false},
                            "axis": {"values": [0.2, 0.4, 0.6, 0.8, 1.0], "format": ".1f"}}}},
        {"mark": {"type": "line", "strokeWidth": 2.7, "clip": true},
         "encoding": {"y": {"field": "smooth", "type": "quantitative", "title": "Training Reward",
                            "scale": {"domain": [0.143, 1.04], "nice": false, "zero": false},
                            "axis": {"values": [0.2, 0.4, 0.6, 0.8, 1.0], "format": ".1f"}}}}
      ]
    },
    {
      "title": "Llama-1B",
      "width": 245,
      "height": 251,
      "transform": [{"filter": "datum.panel === 'Llama-1B'"}],
      "encoding": {
        "x": {"field": "step", "type": "quantitative", "title": "Step",
              "scale": {"domain": [0, 100], "nice": false},
              "axis": {"values": [0, 20, 40, 60, 80, 100]}},
        "color": {"field": "method", "type": "nominal", "title": null,
                  "scale": {"domain": ["Vanilla", "PP-Aug", "RC-Aug", "BRIDGE"],
                            "range": ["#f4a582", "#ababab", "#a8d5c1", "#1f5fa2"]}}
      },
      "layer": [
        {"mark": {"type": "line", "strokeWidth": 1, "opacity": 0.13, "clip": true},
         "encoding": {"y": {"field": "raw", "type": "quantitative", "title": "Training Reward",
                            "scale": {"domain": [0.283, 0.897], "nice": false, "zero": false},
                            "axis": {"values": [0.3, 0.4, 0.5, 0.6, 0.7, 0.8], "format": ".1f"}}}},
        {"mark": {"type": "line", "strokeWidth": 2.7, "clip": true},
         "encoding": {"y": {"field": "smooth", "type": "quantitative", "title": "Training Reward",
                            "scale": {"domain": [0.283, 0.897], "nice": false, "zero": false},
                            "axis": {"values": [0.3, 0.4, 0.5, 0.6, 0.7, 0.8], "format": ".1f"}}}}
      ]
    }
  ]
}
